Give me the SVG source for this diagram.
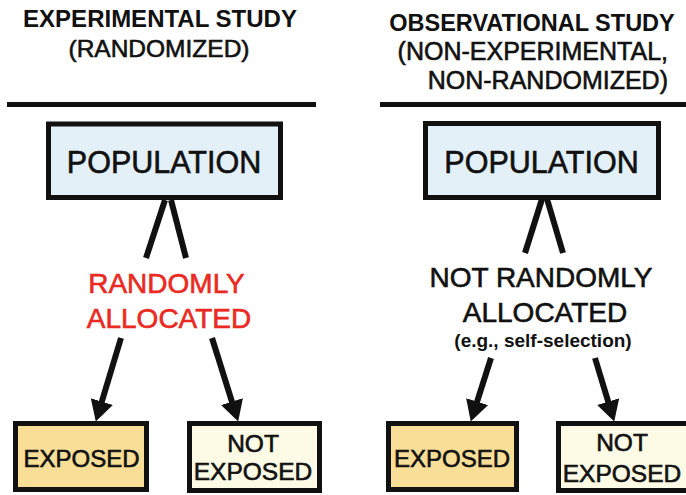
<svg xmlns="http://www.w3.org/2000/svg" width="686" height="495" viewBox="0 0 686 495">
<style>
text{font-family:"Liberation Sans",Arial,sans-serif;fill:#111;text-anchor:middle}
.w{stroke:#111;stroke-width:0.6}
.h{font-weight:bold;font-size:24px}
.s{font-size:24.5px}
.box{stroke:#111;stroke-width:5}
.pop{fill:#e4f0f8}
.exp{fill:#f9de97}
.nexp{fill:#fdfae6}
.pt{font-size:30.5px}
.lab{font-size:28px}
.red{fill:#ea2a22;stroke:#ea2a22}
.bt{font-size:24.5px}
.conn line{stroke:#111;stroke-width:6}
</style>
<defs>
<marker id="ah" viewBox="0 0 20 22" refX="6" refY="11" markerWidth="21" markerHeight="23" markerUnits="userSpaceOnUse" orient="auto">
<path d="M0,0 L20,11 L0,22 z" fill="#111"/>
</marker>
</defs>
<rect width="686" height="495" fill="#fff"/>
<g id="header-left">
<text class="h" x="160" y="27">EXPERIMENTAL STUDY</text>
<text class="s w" x="159" y="57">(RANDOMIZED)</text>
<line x1="7" y1="104.5" x2="316" y2="104.5" stroke="#111" stroke-width="5"/>
</g>
<g id="header-right">
<text class="h" x="532" y="31" style="font-size:23.5px">OBSERVATIONAL STUDY</text>
<text class="w" x="668" y="60" style="font-size:25px;text-anchor:end">(NON-EXPERIMENTAL,</text>
<text class="w" x="668" y="89" style="font-size:25px;text-anchor:end">NON-RANDOMIZED)</text>
<line x1="380" y1="104.5" x2="686" y2="104.5" stroke="#111" stroke-width="5"/>
</g>
<g class="conn" id="connectors">
<line x1="165" y1="200" x2="146" y2="258"/>
<line x1="171" y1="200" x2="186" y2="258"/>
<line x1="542" y1="199" x2="525" y2="253"/>
<line x1="547" y1="199" x2="563" y2="253"/>
<line x1="121" y1="338" x2="100" y2="407.6" marker-end="url(#ah)"/>
<line x1="212" y1="338" x2="233.8" y2="407.6" marker-end="url(#ah)"/>
<line x1="491" y1="358" x2="475.2" y2="407.6" marker-end="url(#ah)"/>
<line x1="595" y1="358" x2="610" y2="407.6" marker-end="url(#ah)"/>
</g>
<g id="population-left">
<rect class="box pop" x="48.5" y="124" width="232" height="73.5"/>
<text class="pt w" x="164" y="173">POPULATION</text>
</g>
<g id="population-right">
<rect class="box pop" x="425.5" y="123.5" width="233" height="74"/>
<text class="pt w" x="541.5" y="173">POPULATION</text>
</g>
<g id="label-left">
<text class="lab w red" x="166.5" y="293">RANDOMLY</text>
<text class="lab w red" x="169" y="328">ALLOCATED</text>
</g>
<g id="label-right">
<text class="lab w" x="541" y="287">NOT RANDOMLY</text>
<text class="lab w" x="545" y="322">ALLOCATED</text>
<text x="543" y="347" style="font-size:19px;font-weight:bold">(e.g., self-selection)</text>
</g>
<g id="exposed-left">
<rect class="box exp" x="15.5" y="423.5" width="131" height="66"/>
<text class="bt w" x="81.5" y="467" style="font-size:24px">EXPOSED</text>
</g>
<g id="not-exposed-left">
<rect class="box nexp" x="189.5" y="423.5" width="130" height="67"/>
<text class="bt w" x="253" y="452">NOT</text>
<text class="bt w" x="253" y="480">EXPOSED</text>
</g>
<g id="exposed-right">
<rect class="box exp" x="388.5" y="423.5" width="128" height="66"/>
<text class="bt w" x="452" y="467" style="font-size:24px">EXPOSED</text>
</g>
<g id="not-exposed-right">
<rect class="box nexp" x="558.5" y="423.5" width="131" height="67"/>
<text class="bt w" x="622" y="451">NOT</text>
<text class="bt w" x="622" y="482">EXPOSED</text>
</g>
</svg>
